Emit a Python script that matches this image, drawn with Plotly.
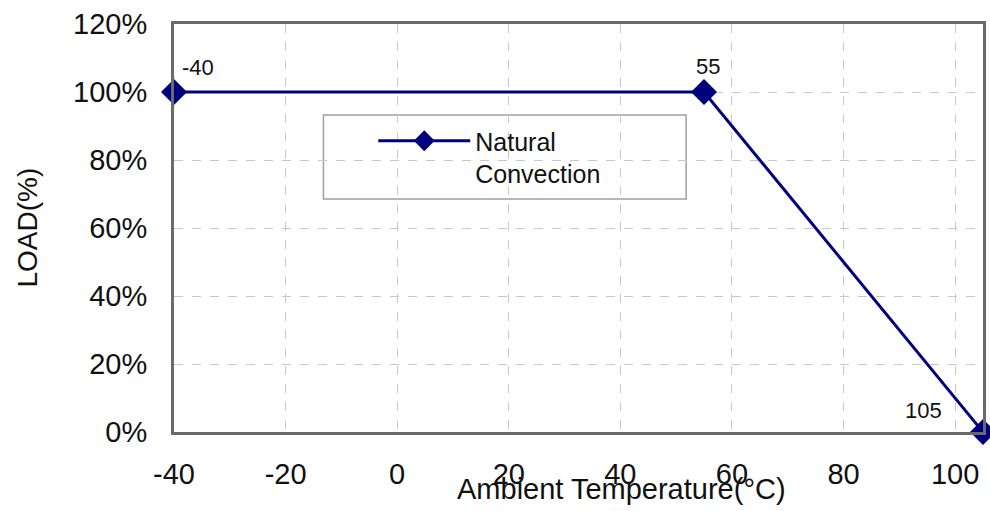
import plotly.graph_objects as go

temperature = [-40, 55, 105]
load_pct = [100, 100, 0]
point_labels = ["-40", "55", "105"]
series_name = "Natural<br>Convection"
x_ticks = [-40, -20, 0, 20, 40, 60, 80, 100]
x_tick_labels = ["-40", "-20", "0", "20", "40", "60", "80", "100"]
y_ticks = [0, 20, 40, 60, 80, 100, 120]
y_tick_labels = ["0%", "20%", "40%", "60%", "80%", "100%", "120%"]

navy = "#00007f"
font_family = "Liberation Sans, Arial, sans-serif"

# label placement styles (pixel offsets), one per point
label_styles = [
    dict(xanchor="left", yanchor="bottom", xshift=6, yshift=10),
    dict(xanchor="center", yanchor="bottom", xshift=4, yshift=11),
    dict(xanchor="center", yanchor="middle", xshift=-60, yshift=22),
]

fig = go.Figure()
fig.add_trace(go.Scatter(
    x=temperature, y=load_pct, name=series_name,
    mode="lines+markers",
    line=dict(color=navy, width=3),
    marker=dict(symbol="diamond", size=20, color=navy),
    cliponaxis=False,
))

annotations = [
    dict(x=xv, y=yv, text=t, showarrow=False,
         font=dict(size=22, family=font_family, color="#111"), **st)
    for xv, yv, t, st in zip(temperature, load_pct, point_labels, label_styles)
]
annotations += [
    dict(text="Ambient Temperature(°C)", xref="paper", yref="paper",
         x=(623 - 174) / 812, y=(432 - 489) / 408, xanchor="center", yanchor="middle",
         showarrow=False, font=dict(size=29, family=font_family, color="#111")),
    dict(text="LOAD(%)", xref="paper", yref="paper",
         x=(26 - 174) / 812, y=0.5, xanchor="center", yanchor="middle", textangle=-90,
         showarrow=False, font=dict(size=28, family=font_family, color="#111")),
]

fig.update_layout(
    width=990, height=511,
    margin=dict(l=174, r=4, t=24, b=79),
    paper_bgcolor="white", plot_bgcolor="white",
    font=dict(family=font_family, color="#111"),
    showlegend=True,
    legend=dict(
        x=(378 - 174 - 4) / 812, y=(432 - 118) / 408, xanchor="left", yanchor="top",
        bgcolor="rgba(0,0,0,0)", borderwidth=0, valign="top",
        font=dict(size=25, family=font_family, color="#111"),
        itemwidth=92,
    ),
    shapes=[dict(type="rect", xref="paper", yref="paper",
                 x0=(324 - 174) / 812, x1=(688 - 174) / 812,
                 y0=(432 - 199) / 408, y1=(432 - 115) / 408,
                 line=dict(color="#a0a0a0", width=1.5), fillcolor="white",
                 layer="below")],
    annotations=annotations,
)

fig.update_xaxes(
    range=[-40, 105], tickvals=x_ticks, ticktext=x_tick_labels,
    ticks="outside", ticklen=0, ticklabelstandoff=14,
    tickfont=dict(size=29, family=font_family, color="#111"),
    showgrid=True, gridcolor="#c8c8c8", griddash="dash", gridwidth=1.2,
    showline=True, linecolor="#6a6a6a", linewidth=3, mirror=True,
    zeroline=False,
)
fig.update_yaxes(
    range=[0, 120], tickvals=y_ticks, ticktext=y_tick_labels,
    ticks="outside", ticklen=0, ticklabelstandoff=18,
    tickfont=dict(size=29, family=font_family, color="#111"),
    showgrid=True, gridcolor="#c8c8c8", griddash="dash", gridwidth=1.2,
    showline=True, linecolor="#6a6a6a", linewidth=3, mirror=True,
    zeroline=False,
)

fig.write_html("out.html", config={"displayModeBar": False},
               post_script="document.body.style.margin='0';")
